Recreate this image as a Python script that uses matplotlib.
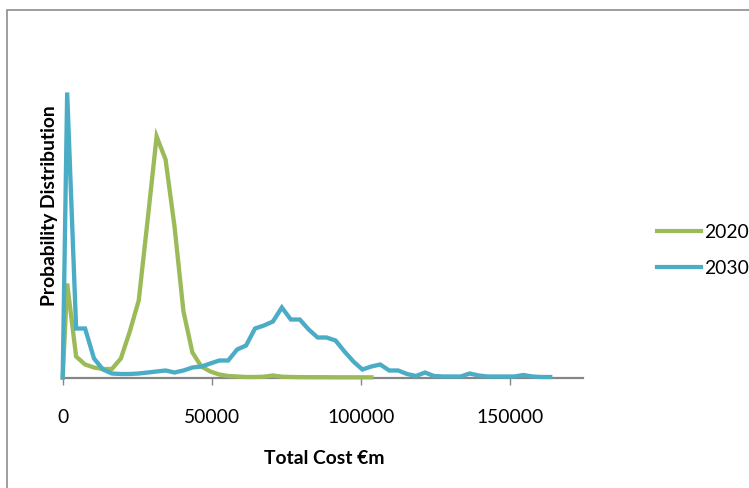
import matplotlib
matplotlib.use("Agg")
import matplotlib.pyplot as plt
from matplotlib.patches import Rectangle

# Total cost bins (€m): origin, then bin mid-points every 3000
cost_2020 = [0] + [1500 + 3000 * k for k in range(35)]
cost_2030 = [0] + [1500 + 3000 * k for k in range(55)]

# relative probability (arbitrary units)
prob_2020 = [0, 94, 21, 13, 10, 8.5, 8.5, 19, 46, 77, 158, 241, 218, 151, 66,
             25, 11, 6, 3, 1.5, 1, 0.5, 0.5, 0.8, 2, 0.8, 0.5, 0.4, 0.3,
             0.3, 0.3, 0.2, 0.2, 0.2, 0.2, 0.2]
prob_2030 = [0, 285, 49, 49, 19, 8, 4, 3.5, 3.5, 4, 5, 6, 7, 5, 7, 10, 11,
             14, 17, 17, 28, 32, 49, 52, 56, 70, 58, 58, 48, 40, 40, 37, 26,
             16, 8, 11, 13, 7, 7, 3.5, 1.5, 5, 1.5, 1, 1, 1, 4, 2, 1, 1, 1,
             1, 2.5, 1, 0.5, 0.5]

x_ticks = [0, 50000, 100000, 150000]
series_names = ["2020", "2030"]

GREEN = "#9bbb59"
BLUE = "#4bacc6"
AXIS = "#868686"
FONT = ["Lato", "DejaVu Sans"]
FS = 13.9

W, H = 749, 488
fig = plt.figure(figsize=(W / 100, H / 100), dpi=100)

# outer chart frame
fig.patches.append(Rectangle((6.5 / W, -0.05), 1.2, 1 - 9.5 / H + 0.05,
                             transform=fig.transFigure, fill=False,
                             edgecolor="#8c8c8c", linewidth=1.2))

left, right = 62.7, 583.0
base, top = 377.5, 60.0
ax = fig.add_axes([left / W, 1 - base / H, (right - left) / W, (base - top) / H])
ax.set_xlim(0, 174500)
ax.set_ylim(0, base - top)

l1, = ax.plot(cost_2020, prob_2020, color=GREEN, lw=3.1, clip_on=False,
              zorder=3, solid_joinstyle="miter")
l2, = ax.plot(cost_2030, prob_2030, color=BLUE, lw=3.1, clip_on=False,
              zorder=4, solid_joinstyle="miter")

for s in ("top", "right", "left"):
    ax.spines[s].set_visible(False)
ax.spines["bottom"].set_color(AXIS)
ax.spines["bottom"].set_linewidth(1.6)
ax.spines["bottom"].set_zorder(2)
ax.set_yticks([])
ax.set_xticks(x_ticks)
ax.set_xticklabels([str(v) for v in x_ticks], family=FONT, fontsize=FS,
                   color="#000000")
ax.tick_params(axis="x", direction="out", length=5, width=1, color=AXIS,
               pad=18)

fig.text(324 / W, 1 - 458 / H, "Total Cost €m", ha="center", va="center",
         family=FONT, fontsize=FS, fontweight="bold")
fig.text(50 / W, 1 - 206 / H, "Probability Distribution", ha="center",
         va="center", rotation=90, family=FONT, fontsize=FS,
         fontweight="bold")

leg = fig.legend([l1, l2], series_names, loc="center left",
                 bbox_to_anchor=(640 / W, 1 - 250.5 / H), frameon=False,
                 prop={"family": FONT, "size": FS}, handlelength=2.24,
                 handletextpad=0.2, labelspacing=1.0)
for h in leg.legend_handles:
    h.set_linewidth(3)

fig.savefig("out.png", dpi=100)
